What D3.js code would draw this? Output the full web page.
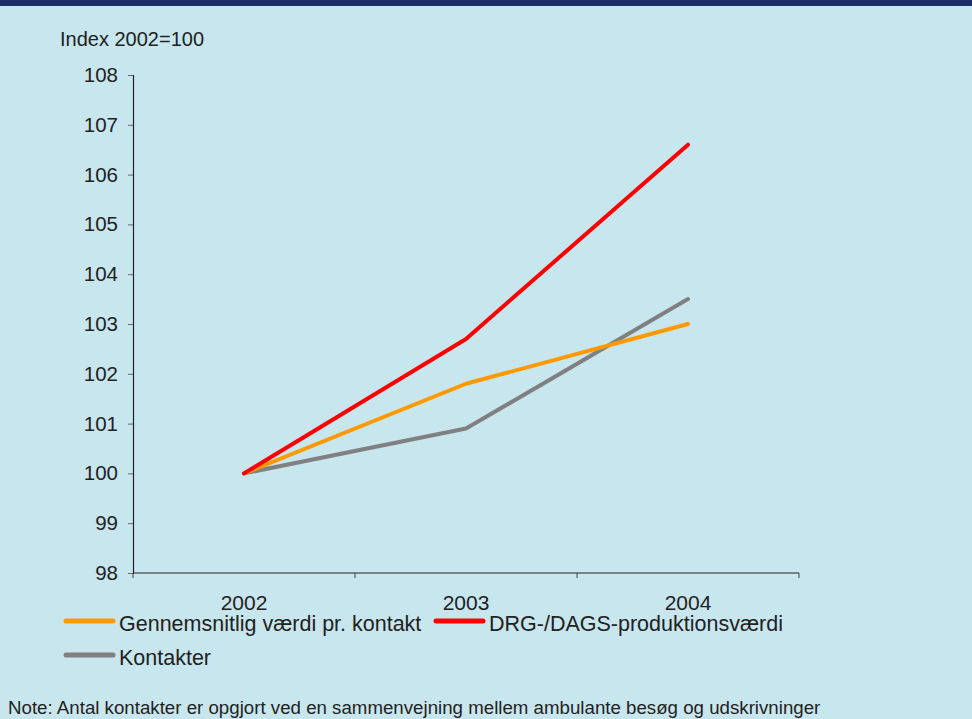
<!DOCTYPE html>
<html>
<head>
<meta charset="utf-8">
<script src="https://cdn.jsdelivr.net/npm/d3@7"></script>
<style>
  html, body { margin: 0; padding: 0; background: #c8e6ee; }
  svg { display: block; font-family: "Liberation Sans", Arial, sans-serif; }
</style>
</head>
<body>
<svg id="chart" width="972" height="719"></svg>
<script>
// Index values (2002 = 100)
const years = ["2002", "2003", "2004"];
const seriesNames = ["Gennemsnitlig værdi pr. kontakt", "DRG-/DAGS-produktionsværdi", "Kontakter"];
const vaerdiPrKontakt = [100, 101.8, 103.0];
const produktionsvaerdi = [100, 102.7, 106.6];
const kontakter = [100, 100.9, 103.5];
const yTicks = [98, 99, 100, 101, 102, 103, 104, 105, 106, 107, 108];
const colors = ["#ff9900", "#ff0000", "#808080"];

const series = [
  { name: seriesNames[0], values: vaerdiPrKontakt, color: colors[0] },
  { name: seriesNames[1], values: produktionsvaerdi, color: colors[1] },
  { name: seriesNames[2], values: kontakter, color: colors[2] }
];

const svg = d3.select("#chart");
const W = 972, H = 719;

svg.append("rect").attr("width", W).attr("height", H).attr("fill", "#c8e6ee");
svg.append("rect").attr("width", W).attr("height", 6).attr("fill", "#1c2e69");

const plot = { left: 133, right: 799, top: 75, bottom: 573 };

const x = d3.scaleBand().domain(years).range([plot.left, plot.right]);
const y = d3.scaleLinear().domain([98, 108]).range([plot.bottom, plot.top]);

// Y axis
const yAxis = svg.append("g")
  .attr("transform", `translate(${plot.left},0)`)
  .call(d3.axisLeft(y).tickValues(yTicks).tickFormat(d3.format("d")).tickSize(5).tickPadding(10));
yAxis.select(".domain").attr("stroke", "#222").attr("stroke-width", 1.2);
yAxis.selectAll(".tick line").attr("stroke", "#666");
yAxis.selectAll(".tick text").attr("font-size", 20.5).attr("fill", "#222")
  .attr("font-family", "Liberation Sans, Arial, sans-serif");

// X axis: ticks on band boundaries, labels centred in each band
const xAxisG = svg.append("g").attr("transform", `translate(0,${plot.bottom})`);
xAxisG.append("line")
  .attr("x1", plot.left).attr("x2", plot.right)
  .attr("stroke", "#222").attr("stroke-width", 1.2);
const bounds = years.map(d => x(d)).concat([x(years[years.length - 1]) + x.bandwidth()]);
xAxisG.selectAll("line.tk").data(bounds).enter().append("line")
  .attr("class", "tk")
  .attr("x1", d => d).attr("x2", d => d)
  .attr("y1", 0).attr("y2", 5)
  .attr("stroke", "#444");
xAxisG.selectAll("text").data(years).enter().append("text")
  .attr("x", d => x(d) + x.bandwidth() / 2)
  .attr("y", 37)
  .attr("text-anchor", "middle")
  .attr("font-size", 21)
  .attr("fill", "#222")
  .text(d => d);

// Y axis title
svg.append("text")
  .attr("x", 60).attr("y", 46)
  .attr("font-size", 20).attr("fill", "#222")
  .text("Index 2002=100");

// Lines
const line = d3.line()
  .x((d, i) => x(years[i]) + x.bandwidth() / 2)
  .y(d => y(d));

// Draw order: gray, orange, red
[series[2], series[0], series[1]].forEach(s => {
  svg.append("path")
    .datum(s.values)
    .attr("d", line)
    .attr("fill", "none")
    .attr("stroke", s.color)
    .attr("stroke-width", 4)
    .attr("stroke-linejoin", "round")
    .attr("stroke-linecap", "round");
});

// Legend
const legendItems = [
  { s: series[0], x: 64, y: 621 },
  { s: series[1], x: 434, y: 621 },
  { s: series[2], x: 64, y: 655 }
];
legendItems.forEach(it => {
  const g = svg.append("g").attr("transform", `translate(${it.x},${it.y})`);
  g.append("line")
    .attr("x1", 2).attr("x2", 49)
    .attr("stroke", it.s.color).attr("stroke-width", 5)
    .attr("stroke-linecap", "round");
  g.append("text")
    .attr("x", 55).attr("y", 10)
    .attr("font-size", 21.5).attr("fill", "#222")
    .text(it.s.name);
});

// Note
svg.append("text")
  .attr("x", 8).attr("y", 714)
  .attr("font-size", 18.7).attr("fill", "#222")
  .text("Note: Antal kontakter er opgjort ved en sammenvejning mellem ambulante besøg og udskrivninger");
</script>
</body>
</html>
